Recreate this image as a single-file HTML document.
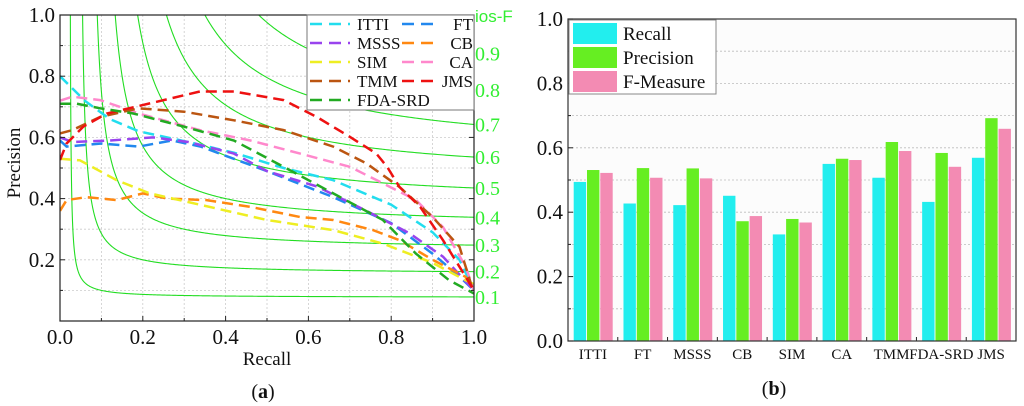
<!DOCTYPE html>
<html><head><meta charset="utf-8">
<style>
html,body{margin:0;padding:0;background:#fff;}
svg{display:block;font-family:"Liberation Serif",serif;}
</style></head>
<body>
<svg id="chart" width="1024" height="406" viewBox="0 0 1024 406" xmlns="http://www.w3.org/2000/svg">
<rect x="0" y="0" width="1024" height="406" fill="#fff"/>
<g id="left"></g>
<g id="right"></g>
</svg>
<script>
// ---------- Left chart data ----------
const isoF = [0.1,0.2,0.3,0.4,0.5,0.6,0.7,0.8,0.9];
const prNames = ["ITTI","FT","MSSS","CB","SIM","CA","TMM","JMS","FDA-SRD"];
const prColors = ["#22ddee","#2288ee","#9944ee","#ff8811","#eeee22","#ff88cc","#bb5511","#ee1111","#22aa22"];
const ittiR=[0,.06,.12,.19,.31,.42,.54,.66,.80,.90,.965,1.0];
const ittiP=[.80,.72,.66,.62,.585,.55,.50,.46,.38,.29,.20,.10];
const ftR=[0,.016,.10,.19,.27,.34,.50,.66,.80,.90,.965,1];
const ftP=[.59,.57,.58,.57,.59,.57,.49,.405,.32,.22,.145,.10];
const msssR=[0,.03,.12,.225,.31,.42,.50,.62,.74,.845,.925,1];
const msssP=[.60,.585,.59,.60,.585,.547,.49,.44,.36,.286,.21,.10];
const cbR=[0,.016,.064,.137,.20,.26,.354,.46,.58,.66,.756,.82,.90,.98,1];
const cbP=[.36,.395,.405,.395,.417,.40,.395,.373,.34,.33,.297,.264,.20,.144,.10];
const simR=[0,.048,.137,.217,.338,.50,.66,.78,.90,.98,1];
const simP=[.53,.525,.46,.417,.38,.33,.297,.253,.19,.133,.12];
const caR=[0,.03,.097,.19,.338,.46,.58,.70,.78,.86,.925,.98,1];
const caP=[.72,.733,.722,.678,.624,.59,.547,.504,.45,.395,.307,.177,.10];
const tmmR=[0,.03,.097,.19,.30,.42,.54,.66,.74,.82,.90,.965,1];
const tmmP=[.613,.624,.667,.695,.684,.656,.624,.57,.515,.438,.34,.242,.09];
const jmsR=[0,.016,.056,.113,.217,.338,.42,.54,.62,.70,.764,.79,.82,.87,.925,.965,1];
const jmsP=[.526,.58,.635,.678,.711,.75,.75,.722,.667,.602,.547,.504,.438,.373,.264,.177,.10];
const fdaR=[0,.04,.097,.177,.30,.42,.54,.66,.78,.86,.94,1];
const fdaP=[.71,.71,.695,.678,.635,.59,.504,.417,.33,.22,.133,.09];
const prR=[ittiR,ftR,msssR,cbR,simR,caR,tmmR,jmsR,fdaR];
const prP=[ittiP,ftP,msssP,cbP,simP,caP,tmmP,jmsP,fdaP];
const leftTicks=["0.0","0.2","0.4","0.6","0.8","1.0"];
const leftTickVals=[0,0.2,0.4,0.6,0.8,1.0];

// ---------- Right chart data ----------
const cats=["ITTI","FT","MSSS","CB","SIM","CA","TMM","FDA-SRD","JMS"];
const recallVals=[0.494,0.427,0.422,0.451,0.331,0.550,0.507,0.432,0.569];
const precisionVals=[0.531,0.537,0.536,0.372,0.379,0.566,0.618,0.584,0.692];
const fmeasureVals=[0.522,0.507,0.505,0.388,0.368,0.562,0.590,0.541,0.659];
const barSeriesNames=["Recall","Precision","F-Measure"];
const barColors=["#22eeee","#66ee22","#f38bb3"];
const rightTickVals=[0,0.2,0.4,0.6,0.8,1.0];

const NS="http://www.w3.org/2000/svg";
function mk(parent,tag,attrs,text){const e=document.createElementNS(NS,tag);for(const k in attrs)e.setAttribute(k,attrs[k]);if(text!==undefined)e.textContent=text;parent.appendChild(e);return e;}

// ----- Left -----
const L=document.getElementById('left');
const lx0=60,lx1=474,ly0=321,ly1=15;
const xL=v=>lx0+v*(lx1-lx0), yL=v=>ly0-v*(ly0-ly1);
mk(L,'rect',{x:lx0,y:ly1,width:lx1-lx0,height:ly0-ly1,fill:'#fff'});
for(let i=1;i<10;i++){
  let g=mk(L,'line',{x1:xL(i/10),x2:xL(i/10),y1:ly1,y2:ly0,stroke:'#ccc','stroke-dasharray':'2,2','stroke-width':0.8});
  
  let h=mk(L,'line',{x1:lx0,x2:lx1,y1:yL(i/10),y2:yL(i/10),stroke:'#ccc','stroke-dasharray':'2,2','stroke-width':0.8});
  
}
const clip=mk(L,'clipPath',{id:'lclip'});mk(clip,'rect',{x:lx0,y:ly1,width:lx1-lx0,height:ly0-ly1});
const iso=mk(L,'g',{'clip-path':'url(#lclip)'});
isoF.forEach(F=>{
  const r0=0.3*F/1.3;let d='';let first=true;
  for(let k=0;k<=400;k++){const R=r0+0.0005+(1-r0-0.0005)*Math.pow(k/400,2);const P=F*R/(1.3*R-0.3*F);if(P>1.3)continue;d+=(first?'M':'L')+xL(R).toFixed(2)+','+yL(P).toFixed(2);first=false;}
  const p=mk(iso,'path',{d:d,fill:'none',stroke:'#22dd22','stroke-width':1.1});
  
  const lbl=mk(L,'text',{x:lx1+1,y:yL(F/(1.3-0.3*F))+7,fill:'#33ee33','font-size':20},F.toFixed(1));
  
});
prNames.forEach((n,i)=>{
  let d=prR[i].map((r,j)=>(j?'L':'M')+xL(r).toFixed(1)+','+yL(prP[i][j]).toFixed(1)).join('');
  const p=mk(iso,'path',{d:d,fill:'none',stroke:prColors[i],'stroke-width':2.5,'stroke-dasharray':'11,6'});
  
});
mk(L,'rect',{x:lx0,y:ly1,width:lx1-lx0,height:ly0-ly1,fill:'none',stroke:'#222','stroke-width':1.2});
for(let i=0;i<=10;i++){
  mk(L,'line',{x1:xL(i/10),x2:xL(i/10),y1:ly0,y2:ly0-(i%2?3:5),stroke:'#222'});
  mk(L,'line',{x1:lx0,x2:lx0+(i%2?3:5),y1:yL(i/10),y2:yL(i/10),stroke:'#222'});
  mk(L,'line',{x1:lx1,x2:lx1-(i%2?3:5),y1:yL(i/10),y2:yL(i/10),stroke:'#222'});
}
leftTickVals.forEach((v,i)=>{
  const t=mk(L,'text',{x:xL(v),y:344,'text-anchor':'middle','font-size':21,fill:'#111'},leftTicks[i]);
  
  if(v>0){const u=mk(L,'text',{x:lx0-5,y:yL(v)+7,'text-anchor':'end','font-size':21,fill:'#111'},leftTicks[i]);
  }
});
let t=mk(L,'text',{x:267,y:365,'text-anchor':'middle','font-size':19,fill:'#111'},'Recall');

t=mk(L,'text',{x:0,y:0,'text-anchor':'middle','font-size':19,fill:'#111',transform:'translate(20,163) rotate(-90)'},'Precision');

t=mk(L,'text',{x:475,y:22,'font-size':17,fill:'#33ee33','font-family':'Liberation Sans, sans-serif'},'ios-F');

t=mk(L,'text',{x:263,y:398,'text-anchor':'middle','font-size':20,fill:'#111'},'');

t.innerHTML='(<tspan font-weight="bold">a</tspan>)';
// legend
const lg=mk(L,'g',{});

mk(lg,'rect',{x:307,y:15,width:167,height:95,fill:'#fff',stroke:'#777','stroke-width':1});
const legOrder=[[0,0],[1,1],[2,0],[3,1],[4,0],[5,1],[6,0],[7,1],[8,0]];
const rowIdx=[0,0,1,1,2,2,3,3,4];
legOrder.forEach((o,k)=>{
  const i=o[0],col=o[1],row=rowIdx[k];
  const y=24+row*19;
  const g=mk(lg,'g',{});
  
  if(col===0){
    mk(g,'line',{x1:310,x2:350,y1:y,y2:y,stroke:prColors[i],'stroke-width':2.5,'stroke-dasharray':'12,7'});
    mk(g,'text',{x:357,y:y+6,'font-size':17,fill:'#111'},prNames[i]);
  }else{
    mk(g,'line',{x1:402,x2:438,y1:y,y2:y,stroke:prColors[i],'stroke-width':2.5,'stroke-dasharray':'12,7'});
    mk(g,'text',{x:473,y:y+6,'font-size':17,fill:'#111','text-anchor':'end'},prNames[i]);
  }
});

// ----- Right -----
const Rg=document.getElementById('right');
const rx0=568,rx1=1016,ry0=341,ry1=19;
const yR=v=>ry0-v*(ry0-ry1);
const gw=(rx1-rx0)/cats.length;
mk(Rg,'rect',{x:rx0,y:ry1,width:rx1-rx0,height:ry0-ry1,fill:'#fcfcfc'});
for(let i=1;i<10;i++){
  const g=mk(Rg,'line',{x1:rx0,x2:rx1,y1:yR(i/10),y2:yR(i/10),stroke:'#bbb','stroke-dasharray':'2,2','stroke-width':0.8});
  
}
const series=[recallVals,precisionVals,fmeasureVals];
cats.forEach((c,ci)=>{
  series.forEach((s,si)=>{
    const x=rx0+ci*gw+5.7+si*13.3;
    const b=mk(Rg,'rect',{x:x,y:yR(s[ci]),width:12.4,height:ry0-yR(s[ci]),fill:barColors[si]});
    
    
  });
  const tl=mk(Rg,'text',{x:rx0+ci*gw+gw/2,y:359,'text-anchor':'middle','font-size':15,fill:'#111'},c);
  
  mk(Rg,'line',{x1:rx0+(ci+1)*gw,x2:rx0+(ci+1)*gw,y1:ry0,y2:ry0-4,stroke:'#222'});
});
mk(Rg,'rect',{x:rx0,y:ry1,width:rx1-rx0,height:ry0-ry1,fill:'none',stroke:'#333','stroke-width':1.2});
for(let i=0;i<=10;i++){mk(Rg,'line',{x1:rx0,x2:rx0+(i%2?3:5),y1:yR(i/10),y2:yR(i/10),stroke:'#222'});}
rightTickVals.forEach(v=>{
  const u=mk(Rg,'text',{x:rx0-5,y:yR(v)+7,'text-anchor':'end','font-size':21,fill:'#111'},v.toFixed(1));
  
});
const rl=mk(Rg,'g',{});

mk(rl,'rect',{x:569,y:20,width:147,height:74,fill:'#fff',stroke:'#888'});
barSeriesNames.forEach((n,i)=>{
  const g=mk(rl,'g',{});
  
  mk(g,'rect',{x:573,y:23+i*24,width:44,height:21,fill:barColors[i]});
  mk(g,'text',{x:623,y:40+i*24,'font-size':19,fill:'#111'},n);
});
t=mk(Rg,'text',{x:774,y:395,'text-anchor':'middle','font-size':20,fill:'#111'},'');
t.innerHTML='(<tspan font-weight="bold">b</tspan>)';

</script>
</body></html>
